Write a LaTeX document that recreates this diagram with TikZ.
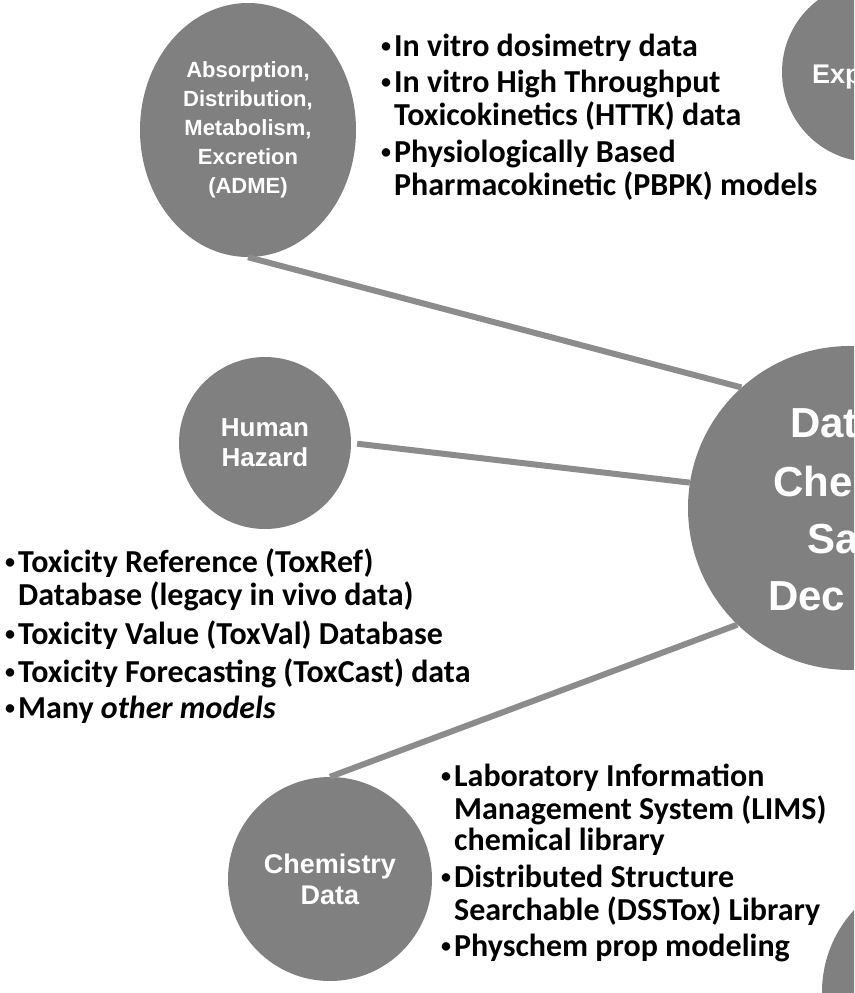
\documentclass[tikz,border=0pt]{standalone}
\usepackage{fontspec}
\setmainfont{Carlito}
\newfontfamily\circfont{Liberation Sans}
\usetikzlibrary{shapes.geometric}
\definecolor{circgray}{RGB}{128,128,128}
\definecolor{linegray}{RGB}{140,140,140}
\newcommand\bul{\makebox[13pt][l]{\raisebox{4pt}{\fontsize{20}{20}\selectfont•}}}
\newcommand\ind{\hspace*{13pt}}
\begin{document}
\begin{tikzpicture}[x=1pt,y=-1pt,
  bubble/.style={circle, fill=circgray, draw=none, inner sep=0pt, text=white, align=center},
  conn/.style={draw=linegray, line width=6pt},
  blist/.style={anchor=base west, inner sep=0pt, font=\fontsize{32}{31}\selectfont\bfseries},
  cut/.style={anchor=base west, inner sep=0pt, text=white}
]
\useasboundingbox (0,0) rectangle (854,993);
\begin{scope}
\clip (0,0) rectangle (854,993);
\node[ellipse, fill=circgray, minimum width=216pt, minimum height=254pt, inner sep=0pt, text=white, align=center,
  font=\circfont\bfseries\fontsize{22}{29}\selectfont] (adme) at (248,130)
  {Absorption,\\Distribution,\\Metabolism,\\Excretion\\(ADME)};
\node[bubble, minimum size=172pt, font=\circfont\bfseries\fontsize{26}{30}\selectfont] (hh) at (265,443) {Human\\Hazard};
\node[bubble, minimum size=204pt, font=\circfont\bfseries\fontsize{27}{31}\selectfont] (chem) at (330,879) {Chemistry\\Data};
\node[bubble, minimum size=324pt] (data) at (850,508) {};
\node[bubble, minimum size=180pt] (exp) at (872,72) {};
\node[bubble, minimum size=242pt] (br) at (943,992) {};

\draw[conn] (adme.south) -- (data.132.5);
\draw[conn, shorten <=6pt] (hh.east) -- (data.171);
\draw[conn] (chem.north) -- (data.226.7);

\node[cut, font=\circfont\bfseries\fontsize{42}{42}\selectfont] (d1) at (790,437) {Dat};
\node[cut, font=\circfont\bfseries\fontsize{42}{42}\selectfont] (d2) at (773,496) {Che};
\node[cut, font=\circfont\bfseries\fontsize{42}{42}\selectfont] (d3) at (807,553) {Sa};
\node[cut, font=\circfont\bfseries\fontsize{42}{42}\selectfont] (d4) at (768,610) {Dec};
\node[cut, font=\circfont\bfseries\fontsize{27}{27}\selectfont] (e1) at (812,83) {Exp};

\node[blist] (l1) at (381,56) {\begin{tabular}[t]{@{}l@{}}
\bul In vitro dosimetry data\\[5pt]
\bul In vitro High Throughput\\
\ind Toxicokinetics (HTTK) data\\[5pt]
\bul Physiologically Based\\
\ind Pharmacokinetic (PBPK) models\end{tabular}};

\node[blist] (l2) at (5,572) {\begin{tabular}[t]{@{}l@{}}
\bul Toxicity Reference (ToxRef)\\
\ind Database (legacy in vivo data)\\[6pt]
\bul Toxicity Value (ToxVal) Database\\[5pt]
\bul Toxicity Forecasting (ToxCast) data\\[5pt]
\bul Many \textit{other models}\end{tabular}};

\node[blist] (l3) at (441,786) {\begin{tabular}[t]{@{}l@{}}
\bul Laboratory Information\\
\ind Management System (LIMS)\\
\ind chemical library\\[5pt]
\bul Distributed Structure\\
\ind Searchable (DSSTox) Library\\[4pt]
\bul Physchem prop modeling\end{tabular}};
\end{scope}
\end{tikzpicture}
\end{document}
